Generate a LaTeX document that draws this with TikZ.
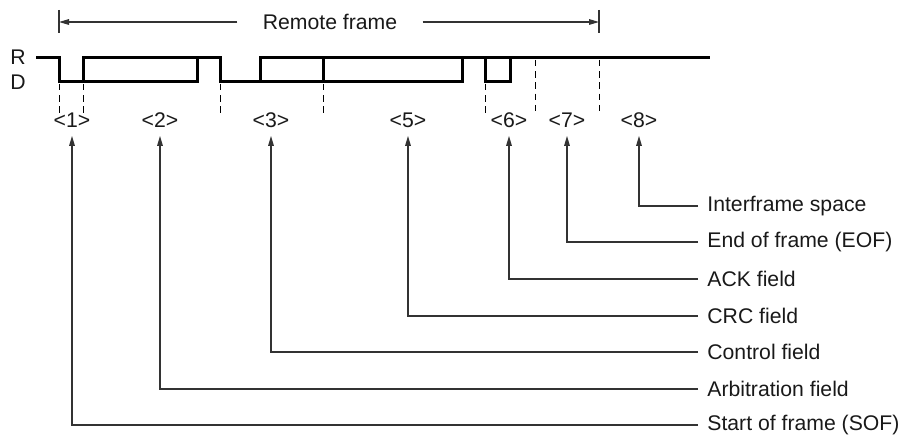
\documentclass[tikz,border=0pt]{standalone}
\usepackage{fontspec}
\setmainfont{Liberation Sans}
\usetikzlibrary{arrows.meta}
\tikzset{
  wave/.style={line width=1.5pt, line join=miter, line cap=butt},
  guide/.style={line width=0.5pt, dash pattern=on 3.2pt off 2.4pt},
  conn/.style={line width=0.6pt, draw=black!80},
  tipend/.style={-{Triangle[length=5pt,width=2.8pt]}},
  lbl/.style={font=\fontsize{10.6}{12.7}\selectfont, inner sep=1pt, text=black!90},
  field/.style={lbl, anchor=west, inner xsep=4.5pt},
  num/.style={font=\fontsize{10.6}{12.7}\selectfont, inner xsep=0pt, inner ysep=0pt, text height=7.5pt, text depth=0pt, outer ysep=4.2pt, text=black!90},
}
\begin{document}
\begin{tikzpicture}[x=0.5pt,y=-0.5pt]
\useasboundingbox (0,0) rectangle (901,443);

% Remote frame span
\node[lbl, inner xsep=12.5pt] (rf) at (330,22) {Remote frame};
\coordinate (ltick) at (59,22);
\coordinate (rtick) at (599,22);
\draw[conn] (59,10) -- (59,33);
\draw[conn] (599,10) -- (599,33);
\draw[conn,tipend] (rf.west) -- (ltick);
\draw[conn,tipend] (rf.east) -- (rtick);

% Level labels
\node[lbl] (R) at (18,57) {R};
\node[lbl] (D) at (18,82) {D};

% Waveform
\draw[wave] (36,58) -- (59,58) -- (59,82) -- (83,82) -- (83,58) -- (220,58) -- (220,82) -- (260,82) -- (260,58) -- (710,58);
\draw[wave] (83,82) -- (197,82) -- (197,58);
\draw[wave] (260,82) -- (462,82) -- (462,58);
\draw[wave] (323,58) -- (323,82);
\draw[wave] (485,58) -- (485,82) -- (510,82) -- (510,58);

% Dashed boundaries
\draw[guide] (59,84) -- (59,113);
\draw[guide] (83,84) -- (83,113);
\draw[guide] (220,84) -- (220,113);
\draw[guide] (323,84) -- (323,113);
\draw[guide] (485,84) -- (485,113);
\draw[guide] (535,60) -- (535,113);
\draw[guide] (599,60) -- (599,113);

% Field numbers
\node[num] (n1) at (72,120) {<1>};
\node[num] (n2) at (160,120) {<2>};
\node[num] (n3) at (271,120) {<3>};
\node[num] (n5) at (408,120) {<5>};
\node[num] (n6) at (509,120) {<6>};
\node[num] (n7) at (567,120) {<7>};
\node[num] (n8) at (639,120) {<8>};

% Field names
\node[field] (t8) at (698,206) {Interframe space};
\node[field] (t7) at (698,242) {End of frame (EOF)};
\node[field] (t6) at (698,279) {ACK field};
\node[field] (t5) at (698,316) {CRC field};
\node[field] (t3) at (698,352) {Control field};
\node[field] (t2) at (698,389) {Arbitration field};
\node[field] (t1) at (698,425) {Start of frame (SOF)};

% Connectors
\draw[conn,tipend] (t8.west) -| (n8.south);
\draw[conn,tipend] (t7.west) -| (n7.south);
\draw[conn,tipend] (t6.west) -| (n6.south);
\draw[conn,tipend] (t5.west) -| (n5.south);
\draw[conn,tipend] (t3.west) -| (n3.south);
\draw[conn,tipend] (t2.west) -| (n2.south);
\draw[conn,tipend] (t1.west) -| (n1.south);
\end{tikzpicture}
\end{document}
